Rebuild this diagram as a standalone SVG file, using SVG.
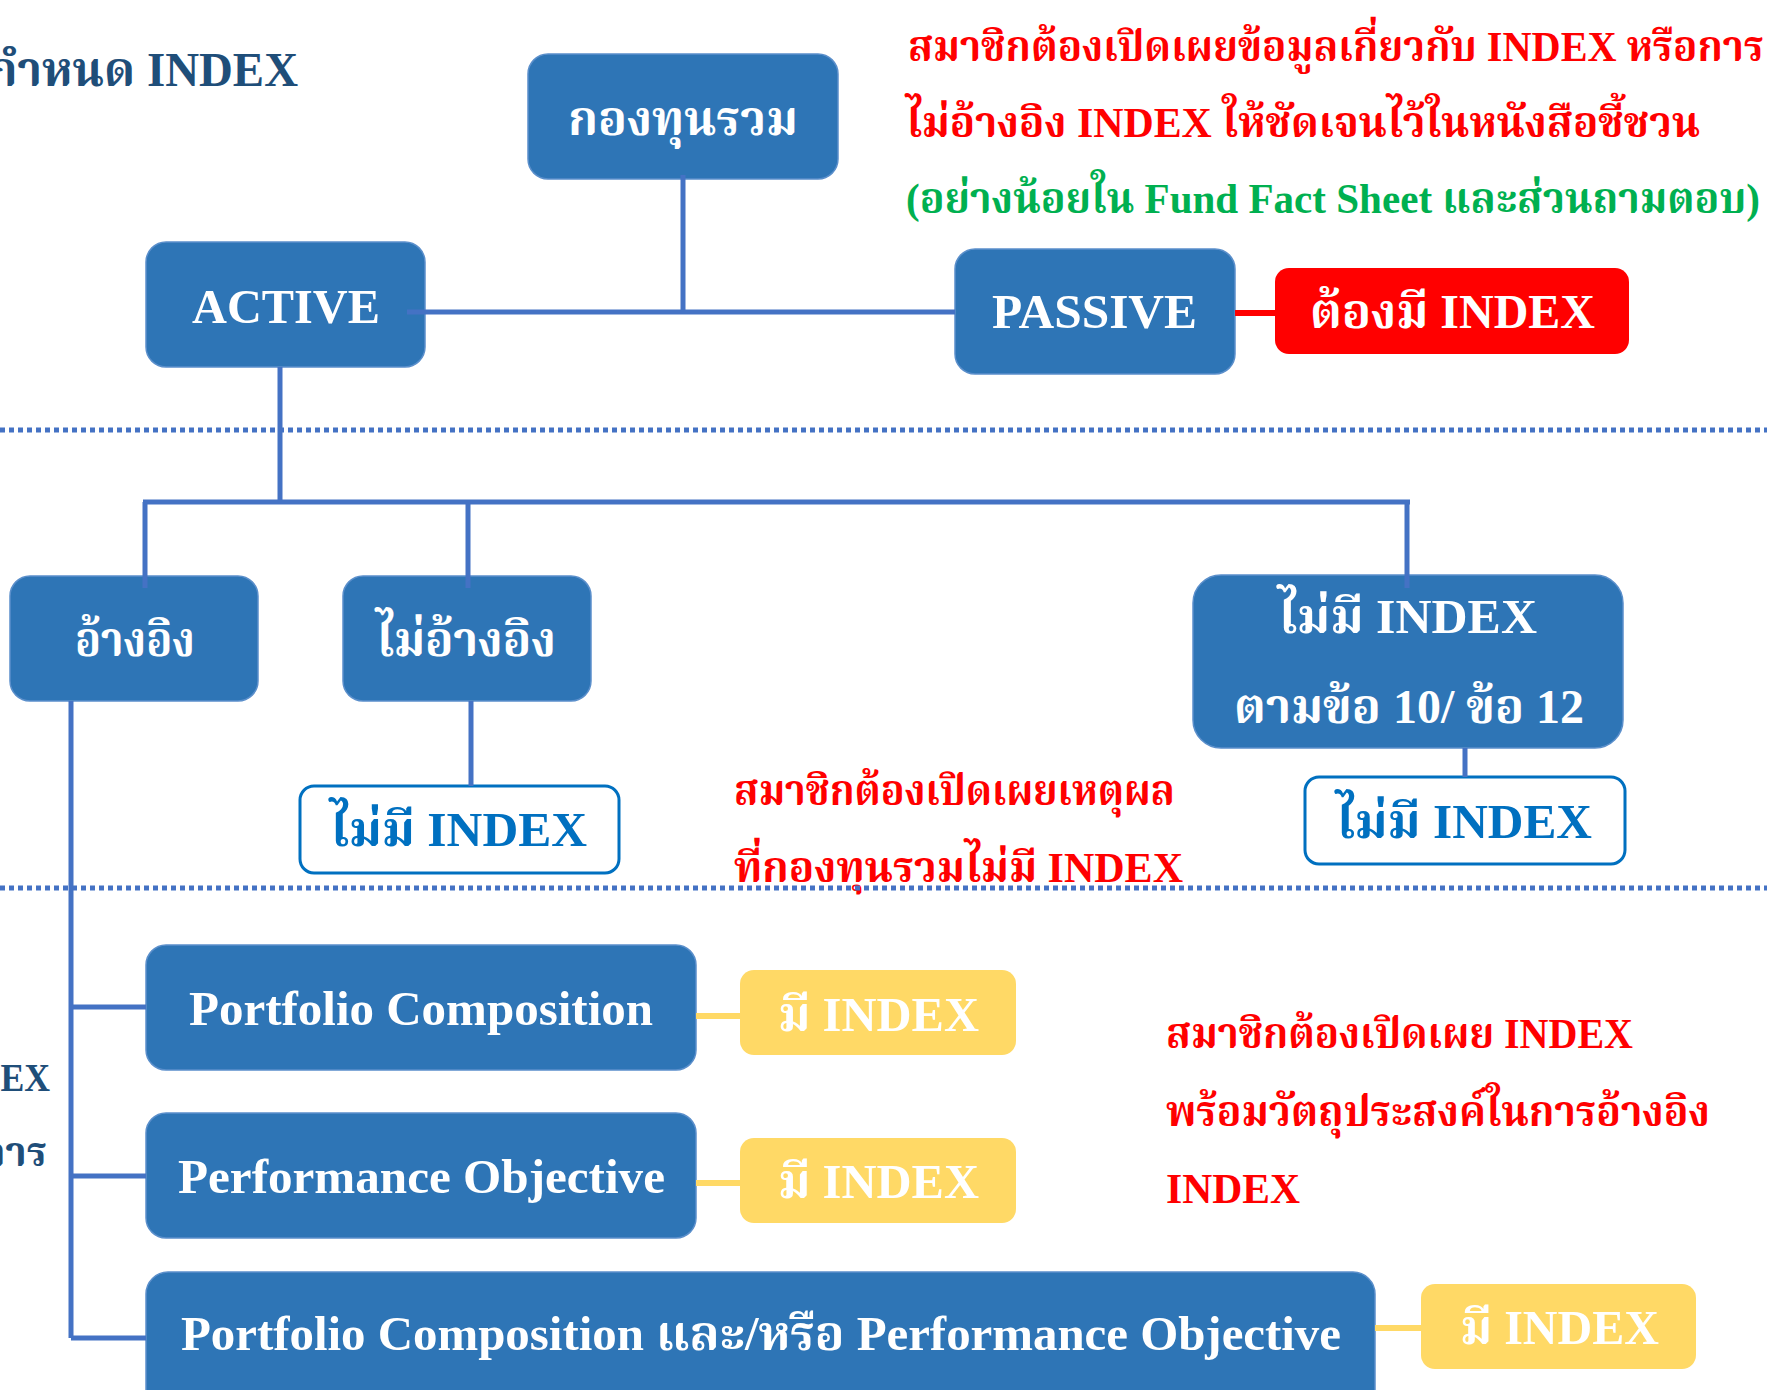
<svg xmlns="http://www.w3.org/2000/svg" width="1767" height="1390" viewBox="0 0 1767 1390">
<style>
text{font-family:"Liberation Serif","Noto Serif Thai","Noto Sans Thai",serif;font-weight:bold;}
.box{fill:#2E75B6;stroke:#5B8FCB;stroke-width:1.5;}
.wt{fill:#ffffff;font-size:48px;}
.out{fill:#ffffff;stroke:#0070C0;stroke-width:3;}
.bt{fill:#0070C0;font-size:48px;}
.yel{fill:#FFD966;}
.red{fill:#FF0000;font-size:42px;}
.grn{fill:#00B050;font-size:42px;}
.dk{fill:#1F4E79;}
.ln{stroke:#4472C4;stroke-width:5;fill:none;}
.dot{stroke:#4472C4;stroke-width:5;stroke-dasharray:5 4;fill:none;}
</style>
<rect width="1767" height="1390" fill="#ffffff"/>
<g id="annotations">
<text class="dk" x="-12" y="86" font-size="48" textLength="310" lengthAdjust="spacingAndGlyphs">กำหนด INDEX</text>
<text class="dk" x="-65" y="1091" font-size="40" textLength="115" lengthAdjust="spacingAndGlyphs">INDEX</text>
<text class="dk" x="-20" y="1166" font-size="40" textLength="67" lengthAdjust="spacingAndGlyphs">การ</text>
<text class="red" x="908" y="61" textLength="856" lengthAdjust="spacingAndGlyphs">สมาชิกต้องเปิดเผยข้อมูลเกี่ยวกับ INDEX หรือการ</text>
<text class="red" x="906" y="137" textLength="794" lengthAdjust="spacingAndGlyphs">ไม่อ้างอิง INDEX ให้ชัดเจนไว้ในหนังสือชี้ชวน</text>
<text class="grn" x="906" y="213" textLength="854" lengthAdjust="spacingAndGlyphs">(อย่างน้อยใน Fund Fact Sheet และส่วนถามตอบ)</text>
<text class="red" x="734" y="805" textLength="441" lengthAdjust="spacingAndGlyphs">สมาชิกต้องเปิดเผยเหตุผล</text>
<text class="red" x="734" y="882" textLength="449" lengthAdjust="spacingAndGlyphs">ที่กองทุนรวมไม่มี INDEX</text>
<text class="red" x="1166" y="1048" textLength="467" lengthAdjust="spacingAndGlyphs">สมาชิกต้องเปิดเผย INDEX</text>
<text class="red" x="1166" y="1126" textLength="544" lengthAdjust="spacingAndGlyphs">พร้อมวัตถุประสงค์ในการอ้างอิง</text>
<text class="red" x="1166" y="1203" textLength="134" lengthAdjust="spacingAndGlyphs">INDEX</text>
</g>
<g id="n-fund"><rect class="box" x="528" y="54" width="310" height="125" rx="20"/><text class="wt" x="568" y="135" textLength="230" lengthAdjust="spacingAndGlyphs">กองทุนรวม</text></g>
<g id="n-active"><rect class="box" x="146" y="242" width="279" height="125" rx="20"/><text class="wt" x="192" y="323" textLength="188" lengthAdjust="spacingAndGlyphs">ACTIVE</text></g>
<g id="n-passive"><rect class="box" x="955" y="249" width="280" height="125" rx="20"/><text class="wt" x="992" y="328" textLength="205" lengthAdjust="spacingAndGlyphs">PASSIVE</text></g>
<g id="n-must"><rect x="1275" y="268" width="354" height="86" rx="14" fill="#FF0000"/><text class="wt" x="1310" y="328" textLength="285" lengthAdjust="spacingAndGlyphs">ต้องมี INDEX</text></g>
<g id="n-ref"><rect class="box" x="10" y="576" width="248" height="125" rx="20"/><text class="wt" x="75" y="656" textLength="120" lengthAdjust="spacingAndGlyphs">อ้างอิง</text></g>
<g id="n-noref"><rect class="box" x="343" y="576" width="248" height="125" rx="20"/><text class="wt" x="376" y="656" textLength="180" lengthAdjust="spacingAndGlyphs">ไม่อ้างอิง</text></g>
<g id="n-noindex-clause"><rect class="box" x="1193" y="575" width="430" height="173" rx="28"/><text class="wt" x="1278" y="633" textLength="259" lengthAdjust="spacingAndGlyphs">ไม่มี INDEX</text><text class="wt" x="1234" y="723" textLength="350" lengthAdjust="spacingAndGlyphs">ตามข้อ 10/ ข้อ 12</text></g>
<g id="n-noindex-1"><rect class="out" x="300" y="786" width="319" height="87" rx="14"/><text class="bt" x="330" y="846" textLength="257" lengthAdjust="spacingAndGlyphs">ไม่มี INDEX</text></g>
<g id="n-noindex-2"><rect class="out" x="1305" y="777" width="320" height="87" rx="14"/><text class="bt" x="1336" y="838" textLength="256" lengthAdjust="spacingAndGlyphs">ไม่มี INDEX</text></g>
<g id="n-pc"><rect class="box" x="146" y="945" width="550" height="125" rx="20"/><text class="wt" x="189" y="1025" textLength="464" lengthAdjust="spacingAndGlyphs">Portfolio Composition</text></g>
<g id="n-pc-idx"><rect class="yel" x="740" y="970" width="276" height="85" rx="14"/><text class="wt" x="778" y="1031" textLength="201" lengthAdjust="spacingAndGlyphs">มี INDEX</text></g>
<g id="n-po"><rect class="box" x="146" y="1113" width="550" height="125" rx="20"/><text class="wt" x="178" y="1193" textLength="487" lengthAdjust="spacingAndGlyphs">Performance Objective</text></g>
<g id="n-po-idx"><rect class="yel" x="740" y="1138" width="276" height="85" rx="14"/><text class="wt" x="778" y="1198" textLength="201" lengthAdjust="spacingAndGlyphs">มี INDEX</text></g>
<g id="n-both"><rect class="box" x="146" y="1272" width="1229" height="160" rx="22"/><text class="wt" x="181" y="1350" textLength="1160" lengthAdjust="spacingAndGlyphs">Portfolio Composition และ/หรือ Performance Objective</text></g>
<g id="n-both-idx"><rect class="yel" x="1421" y="1284" width="275" height="85" rx="14"/><text class="wt" x="1460" y="1344" textLength="199" lengthAdjust="spacingAndGlyphs">มี INDEX</text></g>
<g id="connectors">
<path class="dot" d="M0 430H1767M0 888H1767"/>
<path class="ln" d="M683 175V312M407 312H955M280 367V502M143 502H1410M145 502V588M468 502V588M1407 502V588M471 701V786M1465 748V777M71 701V1338M71 1007H146M71 1176H146M71 1338H146"/>
<path d="M1235 313H1275" stroke="#FF0000" stroke-width="6"/>
<path d="M696 1016H740M696 1183H740M1375 1328H1421" stroke="#FFD966" stroke-width="6"/>
</g>
</svg>
